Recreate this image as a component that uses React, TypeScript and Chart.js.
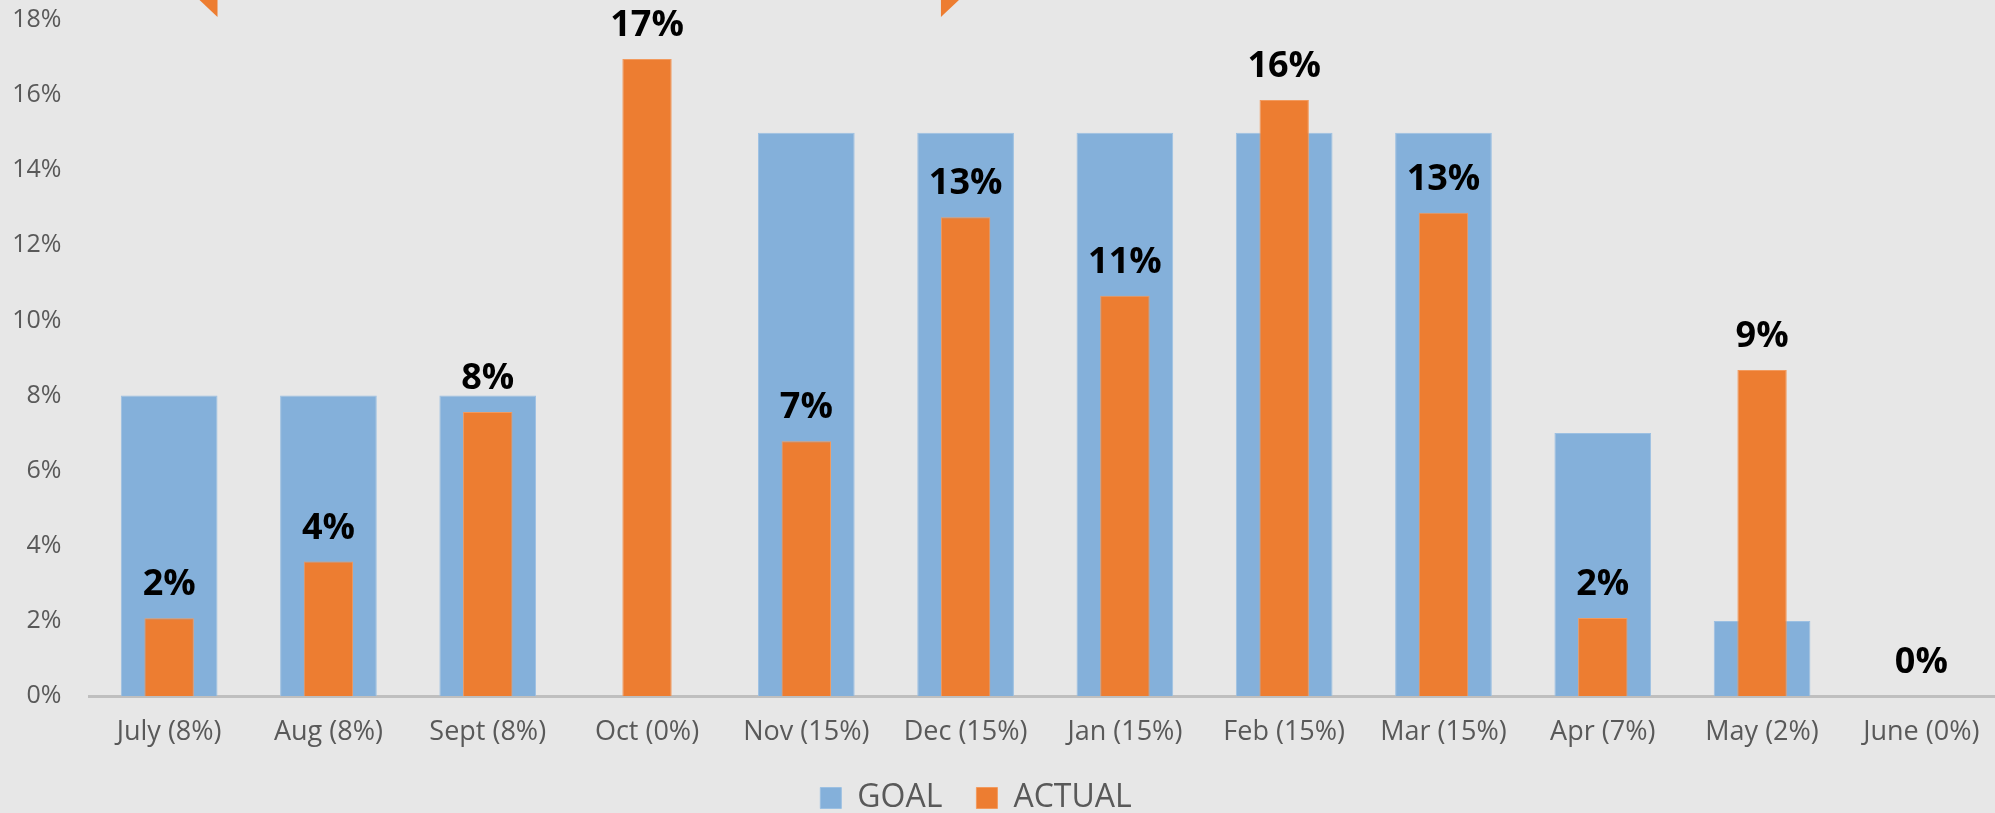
import React, { useEffect, useRef } from "react";
import { Chart, registerables } from "chart.js";

Chart.register(...registerables);

const categories = [
  "July (8%)", "Aug (8%)", "Sept (8%)", "Oct (0%)", "Nov (15%)", "Dec (15%)",
  "Jan (15%)", "Feb (15%)", "Mar (15%)", "Apr (7%)", "May (2%)", "June (0%)",
];
const goalValues = [8, 8, 8, 0, 15, 15, 15, 15, 15, 7, 2, 0];
const actualValues = [2.07, 3.58, 7.56, 16.96, 6.78, 12.75, 10.66, 15.87, 12.87, 2.08, 8.68, 0];
const yTicks = [0, 2, 4, 6, 8, 10, 12, 14, 16, 18];

const BLUE = "#84B0DA";
const ORANGE = "#ED7D31";
const GRAY_TEXT = "#595959";
const BG = "#E7E7E7";

const CANVAS_W = 2060;
const CANVAS_H = 824;

const labelPlugin = {
  id: "valueLabels",
  afterDatasetsDraw(chart: any) {
    const ctx = chart.ctx;
    const meta = chart.getDatasetMeta(1);
    ctx.save();
    ctx.font = "bold 36px 'Open Sans'";
    ctx.fillStyle = "#000000";
    ctx.textAlign = "center";
    ctx.textBaseline = "alphabetic";
    meta.data.forEach((el: any, i: number) => {
      const v = actualValues[i];
      ctx.fillText(Math.round(v) + "%", el.x, el.y - 23);
    });
    ctx.restore();
  },
};

const calloutTailPlugin = {
  id: "calloutTails",
  afterDraw(chart: any) {
    const ctx = chart.ctx;
    const goalMeta = chart.getDatasetMeta(0);
    const actMeta = chart.getDatasetMeta(1);
    const a: any = goalMeta.data[0];
    const b: any = actMeta.data[5];
    ctx.save();
    ctx.fillStyle = ORANGE;
    if (a) {
      const r = a.x + a.width / 2;
      ctx.beginPath();
      ctx.moveTo(r - 18, 0);
      ctx.lineTo(r, 0);
      ctx.lineTo(r, 17);
      ctx.closePath();
      ctx.fill();
    }
    if (b) {
      const l = b.x - b.width / 2;
      ctx.beginPath();
      ctx.moveTo(l, 0);
      ctx.lineTo(l + 18, 0);
      ctx.lineTo(l, 17);
      ctx.closePath();
      ctx.fill();
    }
    ctx.restore();
  },
};

export default function App() {
  const canvasRef = useRef<HTMLCanvasElement | null>(null);

  useEffect(() => {
    const canvas = canvasRef.current;
    if (!canvas) return;
    Chart.defaults.font.family = "'Open Sans'";
    const chart = new Chart(canvas, {
      type: "bar",
      data: {
        labels: categories,
        datasets: [
          {
            label: "GOAL",
            data: goalValues,
            backgroundColor: BLUE,
            borderColor: "#9CC0E2",
            borderWidth: 1,
            barPercentage: 0.607,
            categoryPercentage: 1,
            grouped: false,
            order: 1,
          },
          {
            label: "ACTUAL",
            data: actualValues,
            backgroundColor: ORANGE,
            borderColor: "#F29A5E",
            borderWidth: 1,
            barPercentage: 0.31,
            categoryPercentage: 1,
            grouped: false,
            order: 0,
          },
        ],
      },
      options: {
        responsive: false,
        animation: false,
        layout: { padding: { top: 20, right: CANVAS_W - 2050, left: 0, bottom: 0 } },
        plugins: {
          tooltip: { enabled: false },
          legend: {
            position: "bottom",
            labels: {
              boxWidth: 21,
              boxHeight: 21,
              padding: 34,
              color: GRAY_TEXT,
              font: { size: 32, family: "'Open Sans'" },
              sort: (a: any, b: any) => a.datasetIndex - b.datasetIndex,
            },
          },
        },
        scales: {
          x: {
            grid: { display: false, drawTicks: false },
            border: { display: true, color: "#BFBFBF", width: 3 },
            afterFit: (scale: any) => {
              scale.height = 52;
            },
            ticks: {
              color: GRAY_TEXT,
              font: { size: 27 },
              padding: 20,
              maxRotation: 0,
              autoSkip: false,
            },
          },
          y: {
            min: 0,
            max: 18,
            afterBuildTicks: (scale: any) => {
              scale.ticks = yTicks.map((v) => ({ value: v }));
            },
            afterFit: (scale: any) => {
              scale.width = 138.5;
              scale.paddingTop = 0;
              scale.paddingBottom = 0;
            },
            grid: { display: false, drawTicks: false },
            border: { display: false },
            ticks: {
              color: GRAY_TEXT,
              font: { size: 25 },
              padding: 28,
              callback: (v: any) => v + "%",
            },
          },
        },
      },
      plugins: [labelPlugin, calloutTailPlugin],
    });
    return () => chart.destroy();
  }, []);

  return (
    <div
      style={{
        position: "fixed",
        left: 0,
        top: 0,
        width: 1995,
        height: 813,
        overflow: "hidden",
        background: BG,
      }}
    >
      <canvas
        ref={canvasRef}
        width={CANVAS_W}
        height={CANVAS_H}
        style={{ position: "absolute", left: -49, top: 0, width: CANVAS_W, height: CANVAS_H }}
      />
    </div>
  );
}
